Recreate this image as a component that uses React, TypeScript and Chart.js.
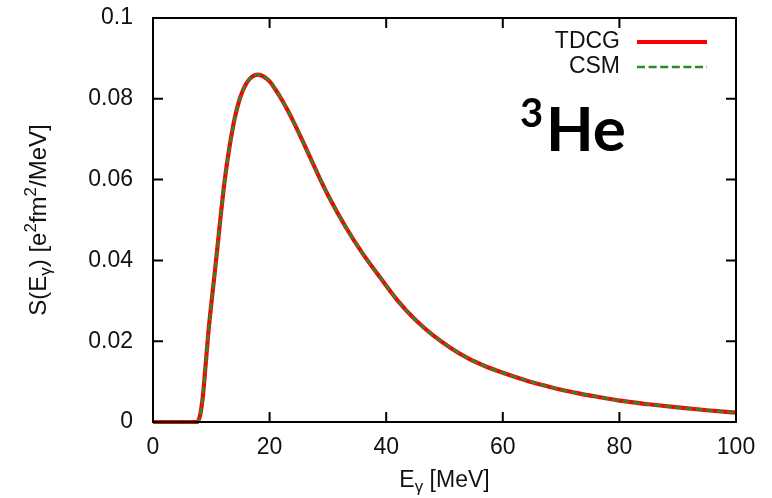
import { useEffect, useRef } from 'react';
import { Chart, registerables } from 'chart.js';

Chart.register(...registerables);

// Photon energy E_gamma [MeV]
const energies = [
  0, 2, 4, 6, 7, 7.6, 8.0, 8.3, 8.6, 9.0, 9.5, 10, 10.5, 11, 11.5, 12, 12.5, 13, 13.5, 14, 15, 16, 17, 18, 19, 20, 21, 22, 23,
  24, 26, 28, 30, 33, 36, 39, 42, 45, 48, 51, 54, 57, 60, 64, 67, 70, 73, 76, 80, 85, 90, 95, 100,
];

// S(E_gamma) [e^2 fm^2 / MeV] — TDCG
const tdcgValues = [
  0, 0, 0, 0, 0, 0, 0.0012, 0.0035, 0.0070, 0.0137, 0.0222, 0.0292, 0.0358, 0.0425, 0.0495, 0.0562, 0.0620, 0.0670, 0.0713, 0.0751, 0.0805, 0.0838, 0.0855, 0.0860, 0.0855, 0.0843, 0.0823, 0.0800, 0.0774,
  0.0746, 0.0685, 0.0622, 0.0562, 0.0484, 0.0416, 0.0357, 0.0300, 0.0253, 0.0215, 0.0184, 0.0158, 0.0138, 0.0122, 0.0103, 0.0091, 0.0080, 0.0071, 0.0063, 0.0053, 0.0044, 0.0036, 0.0029, 0.0023,
];

// S(E_gamma) — CSM (indistinguishable from TDCG in the figure)
const csmValues = [
  0, 0, 0, 0, 0, 0, 0.0012, 0.0035, 0.0070, 0.0137, 0.0222, 0.0292, 0.0358, 0.0425, 0.0495, 0.0562, 0.0620, 0.0670, 0.0713, 0.0751, 0.0805, 0.0838, 0.0855, 0.0860, 0.0855, 0.0843, 0.0823, 0.0800, 0.0774,
  0.0746, 0.0685, 0.0622, 0.0562, 0.0484, 0.0416, 0.0357, 0.0300, 0.0253, 0.0215, 0.0184, 0.0158, 0.0138, 0.0122, 0.0103, 0.0091, 0.0080, 0.0071, 0.0063, 0.0053, 0.0044, 0.0036, 0.0029, 0.0023,
];

const xTickLabels = ['0', '20', '40', '60', '80', '100'];
const yTickLabels = ['0', '0.02', '0.04', '0.06', '0.08', '0.1'];
const seriesNames = ['TDCG', 'CSM'];
const nucleusMass = '3';
const nucleusName = 'He';

const FONT = '"Liberation Sans", Arial, sans-serif';
const RED = '#ff0000';
const GREEN = '#2a8a2a';

type Part = { t: string; k: 'n' | 'sub' | 'sup' };

function drawRich(ctx: CanvasRenderingContext2D, parts: Part[], cx: number, cy: number, size: number, rotate: boolean) {
  const small = Math.round(size * 0.72);
  const fontFor = (k: string) => `${k === 'n' ? size : small}px ${FONT}`;
  let total = 0;
  for (const p of parts) {
    ctx.font = fontFor(p.k);
    total += ctx.measureText(p.t).width;
  }
  ctx.save();
  ctx.translate(cx, cy);
  if (rotate) ctx.rotate(-Math.PI / 2);
  ctx.fillStyle = '#111';
  ctx.textBaseline = 'alphabetic';
  ctx.textAlign = 'left';
  let x = -total / 2;
  const base = size * 0.36;
  for (const p of parts) {
    ctx.font = fontFor(p.k);
    const dy = p.k === 'sub' ? size * 0.22 : p.k === 'sup' ? -size * 0.42 : 0;
    ctx.fillText(p.t, x, base + dy);
    x += ctx.measureText(p.t).width;
  }
  ctx.restore();
}

const framePlugin = {
  id: 'frame',
  afterDatasetsDraw(chart: any) {
    const { ctx, chartArea: a, scales } = chart;
    ctx.save();
    ctx.strokeStyle = '#000';
    ctx.lineWidth = 2;
    ctx.strokeRect(a.left, a.top, a.right - a.left, a.bottom - a.top);
    const len = 10;
    ctx.beginPath();
    for (const t of scales.x.ticks) {
      const px = scales.x.getPixelForValue(t.value);
      ctx.moveTo(px, a.bottom);
      ctx.lineTo(px, a.bottom - len);
      ctx.moveTo(px, a.top);
      ctx.lineTo(px, a.top + len);
    }
    for (const t of scales.y.ticks) {
      const py = scales.y.getPixelForValue(t.value);
      ctx.moveTo(a.left, py);
      ctx.lineTo(a.left + len, py);
      ctx.moveTo(a.right, py);
      ctx.lineTo(a.right - len, py);
    }
    ctx.stroke();
    ctx.restore();
  },
  afterDraw(chart: any) {
    const { ctx, chartArea: a } = chart;
    // axis titles
    drawRich(
      ctx,
      [
        { t: 'S(E', k: 'n' },
        { t: 'γ', k: 'sub' },
        { t: ') [e', k: 'n' },
        { t: '2', k: 'sup' },
        { t: 'fm', k: 'n' },
        { t: '2', k: 'sup' },
        { t: '/MeV]', k: 'n' },
      ],
      37,
      (a.top + a.bottom) / 2,
      24,
      true
    );
    drawRich(
      ctx,
      [
        { t: 'E', k: 'n' },
        { t: 'γ', k: 'sub' },
        { t: ' [MeV]', k: 'n' },
      ],
      (a.left + a.right) / 2,
      479,
      23,
      false
    );
    // legend
    ctx.save();
    ctx.font = `23px ${FONT}`;
    ctx.fillStyle = '#111';
    ctx.textAlign = 'right';
    ctx.textBaseline = 'middle';
    const lx = a.right - 116;
    const ly1 = a.top + 24;
    const ly2 = a.top + 49;
    ctx.fillText(seriesNames[0], lx, ly1);
    ctx.fillText(seriesNames[1], lx, ly2);
    ctx.lineCap = 'butt';
    ctx.strokeStyle = RED;
    ctx.lineWidth = 4;
    ctx.beginPath();
    ctx.moveTo(lx + 17, ly1);
    ctx.lineTo(lx + 87, ly1);
    ctx.stroke();
    ctx.strokeStyle = GREEN;
    ctx.lineWidth = 2.6;
    ctx.setLineDash([8, 3.6]);
    ctx.beginPath();
    ctx.moveTo(lx + 17, ly2);
    ctx.lineTo(lx + 87, ly2);
    ctx.stroke();
    ctx.setLineDash([]);
    // 3He label
    ctx.fillStyle = '#000';
    ctx.textAlign = 'left';
    ctx.textBaseline = 'alphabetic';
    ctx.font = `bold 40px Lato, "Open Sans", sans-serif`;
    ctx.fillText(nucleusMass, 520, 127);
    ctx.font = `bold 62px Lato, "Open Sans", sans-serif`;
    ctx.fillText(nucleusName, 546, 151);
    ctx.restore();
  },
};

export default function App() {
  const ref = useRef<HTMLCanvasElement | null>(null);

  useEffect(() => {
    if (!ref.current) return;
    const toPoints = (vals: number[]) => energies.map((e, i) => ({ x: e, y: vals[i] }));
    const chart = new Chart(ref.current, {
      type: 'line',
      data: {
        datasets: [
          {
            label: seriesNames[0],
            data: toPoints(tdcgValues),
            borderColor: RED,
            borderWidth: 4.2,
            pointRadius: 0,
            cubicInterpolationMode: 'monotone',
            clip: 8,
            order: 2,
          },
          {
            label: seriesNames[1],
            data: toPoints(csmValues),
            borderColor: GREEN,
            borderWidth: 2.6,
            borderDash: [7, 3.5],
            pointRadius: 0,
            cubicInterpolationMode: 'monotone',
            clip: 8,
            order: 1,
          },
        ],
      },
      options: {
        animation: false,
        responsive: true,
        maintainAspectRatio: false,
        layout: { padding: { left: 0, right: 36, top: 18, bottom: 0 } },
        plugins: { legend: { display: false }, tooltip: { enabled: false }, title: { display: false } },
        scales: {
          x: {
            type: 'linear',
            min: 0,
            max: 100,
            border: { display: false },
            grid: { display: false, drawTicks: false },
            ticks: {
              stepSize: 20,
              padding: 12,
              color: '#111',
              font: { family: FONT, size: 23 },
              maxRotation: 0,
              callback: (_v: any, i: number) => xTickLabels[i],
            },
            afterFit: (s: any) => {
              s.height = 76;
              s.paddingLeft = 0;
              s.paddingRight = 0;
            },
          },
          y: {
            type: 'linear',
            min: 0,
            max: 0.1,
            border: { display: false },
            grid: { display: false, drawTicks: false },
            ticks: {
              stepSize: 0.02,
              padding: 20,
              color: '#111',
              font: { family: FONT, size: 23 },
              callback: (_v: any, i: number) => yTickLabels[i],
            },
            afterFit: (s: any) => {
              s.width = 153;
              s.paddingTop = 0;
              s.paddingBottom = 0;
            },
          },
        },
      },
      plugins: [framePlugin],
    });
    return () => chart.destroy();
  }, []);

  return (
    <div style={{ position: 'fixed', left: 0, top: 0, width: 772, height: 498, background: '#fff' }}>
      <canvas ref={ref} />
    </div>
  );
}
